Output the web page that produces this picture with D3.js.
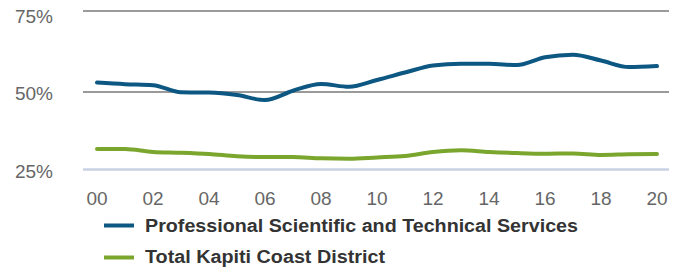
<!DOCTYPE html>
<html>
<head>
<meta charset="utf-8">
<script src="https://cdn.jsdelivr.net/npm/d3@7"></script>
<style>
  html, body { margin: 0; padding: 0; background: #fff; }
  svg { display: block; font-family: "Liberation Sans", Arial, sans-serif; }
</style>
</head>
<body>
<svg id="chart" width="678" height="268"></svg>
<script>
const years = [2000,2001,2002,2003,2004,2005,2006,2007,2008,2009,2010,2011,2012,2013,2014,2015,2016,2017,2018,2019,2020];
const professional = [52.9,52.4,52.1,49.9,49.8,49.0,47.4,50.4,52.5,51.6,53.7,56.0,58.2,58.7,58.7,58.3,60.7,61.5,59.7,57.7,58.0];
const totalKapiti = [31.6,31.6,30.65,30.4,30.0,29.3,29.0,29.0,28.6,28.5,28.9,29.35,30.65,31.2,30.65,30.3,30.1,30.2,29.7,29.9,30.0];
const yTicks = [25,50,75];
const xTickYears = [2000,2002,2004,2006,2008,2010,2012,2014,2016,2018,2020];
const seriesNames = ["Professional Scientific and Technical Services","Total Kapiti Coast District"];
const colors = ["#0d5783","#7aa62e"];

const svg = d3.select("#chart");
const x = d3.scaleLinear().domain([2000,2020]).range([97,657]);
const y = d3.scaleLinear().domain([25,50,75]).range([169.5,92,11]);
const gridX0 = 83, gridX1 = 669;

// gridlines
svg.append("g").selectAll("line").data(yTicks).join("line")
  .attr("x1", gridX0).attr("x2", gridX1)
  .attr("y1", d => y(d)).attr("y2", d => y(d))
  .attr("stroke", d => d === 25 ? "#c8d2e2" : "#9a9a9a")
  .attr("stroke-width", d => d === 25 ? 2.5 : 2);

// y labels
svg.append("g").selectAll("text").data(yTicks).join("text")
  .attr("x", 53).attr("y", d => Math.max(23, y(d) + 8))
  .attr("text-anchor", "end")
  .attr("font-size", 19).attr("fill", "#666")
  .text(d => d + "%");

// x labels
svg.append("g").selectAll("text").data(xTickYears).join("text")
  .attr("x", d => x(d)).attr("y", 204.5)
  .attr("text-anchor", "middle")
  .attr("font-size", 19).attr("fill", "#666")
  .text(d => String(d % 100).padStart(2, "0"));

const line = d3.line().x((d,i) => x(years[i])).y(d => y(d)).curve(d3.curveMonotoneX);
[totalKapiti, professional].forEach((s, k) => {
  svg.append("path").datum(s)
    .attr("d", line)
    .attr("fill", "none")
    .attr("stroke", colors[1 - k])
    .attr("stroke-width", 4)
    .attr("stroke-linecap", "round")
    .attr("stroke-linejoin", "round");
});

// legend
const lg = svg.append("g");
const legendWidths = [433, 240];
seriesNames.forEach((n, i) => {
  const ly = 225.5 + i * 32;
  lg.append("line").attr("x1", 104).attr("x2", 134).attr("y1", ly).attr("y2", ly)
    .attr("stroke", colors[i]).attr("stroke-width", 4);
  lg.append("text").attr("x", 145).attr("y", i === 0 ? 232 : 262.5)
    .attr("font-size", 17.5).attr("font-weight", "bold").attr("fill", "#333")
    .attr("textLength", legendWidths[i]).attr("lengthAdjust", "spacingAndGlyphs")
    .text(n);
});
</script>
</body>
</html>
